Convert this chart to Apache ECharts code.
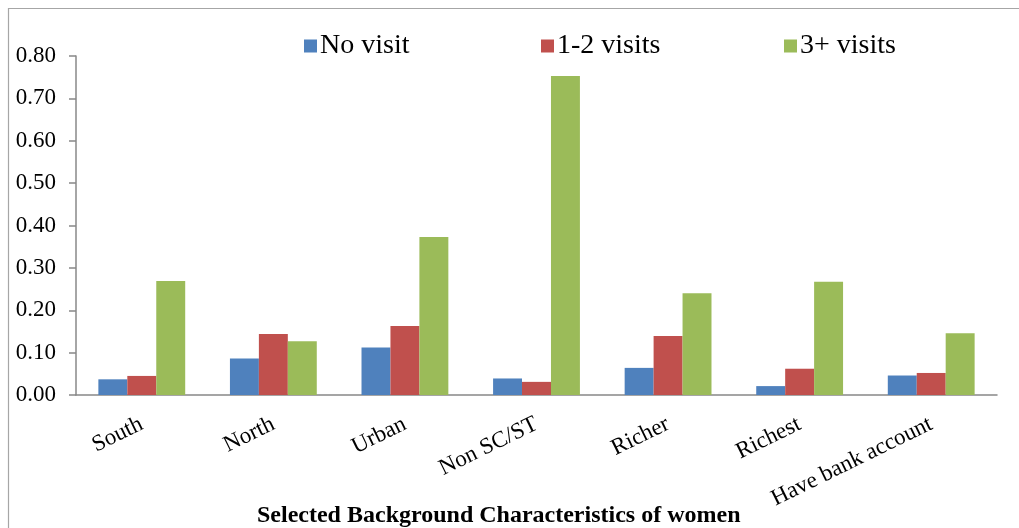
<!DOCTYPE html>
<html>
<head>
<meta charset="utf-8">
<script src="https://cdn.jsdelivr.net/npm/echarts@6/dist/echarts.min.js"></script>
<style>
html,body{margin:0;padding:0;background:#fff;}
#chart{width:1019px;height:528px;}
</style>
</head>
<body>
<div id="chart"></div>
<script>
// Share of women by number of visits, per background characteristic
const categories = ['South', 'North', 'Urban', 'Non SC/ST', 'Richer', 'Richest', 'Have bank account'];
const seriesNames = ['No visit', '1-2 visits', '3+ visits'];
const noVisit   = [0.037, 0.086, 0.112, 0.039, 0.064, 0.021, 0.046];
const oneTwo    = [0.045, 0.144, 0.163, 0.031, 0.139, 0.062, 0.052];
const threePlus = [0.269, 0.127, 0.373, 0.753, 0.240, 0.267, 0.146];
const colors = ['#4F81BD', '#C0504D', '#9BBB59'];

const serif = '"Liberation Serif", "DejaVu Serif", serif';
const chart = echarts.init(document.getElementById('chart'));

const legendLefts = [299, 536, 779];
const legends = seriesNames.map((name, i) => ({
  data: [name],
  left: legendLefts[i],
  top: 27,
  itemWidth: 13,
  itemHeight: 13,
  itemGap: 0,
  icon: 'rect',
  textStyle: { fontFamily: serif, fontSize: 28, color: '#000', padding: [0, 0, 0, -2] }
}));

chart.setOption({
  backgroundColor: '#fff',
  animation: false,
  color: colors,
  legend: legends,
  grid: { left: 76, right: 22, top: 56, bottom: 133 },
  graphic: [{
    type: 'rect',
    shape: { x: 8.5, y: 8.5, width: 1200, height: 700 },
    style: { fill: 'none', stroke: '#a6a6a6', lineWidth: 1.2 },
    silent: true
  }, {
    type: 'text',
    left: 257,
    top: 504,
    style: {
      text: 'Selected Background Characteristics of women',
      font: 'bold 24px ' + serif,
      fill: '#000'
    }
  }],
  xAxis: {
    type: 'category',
    data: categories,
    axisLine: { lineStyle: { color: '#888', width: 1.5 } },
    axisTick: { length: 7, lineStyle: { color: '#888', width: 1.5 } },
    axisLabel: {
      rotate: 26,
      margin: 28,
      interval: 0,
      fontFamily: serif,
      fontSize: 23,
      color: '#000'
    }
  },
  yAxis: {
    type: 'value',
    min: 0,
    max: 0.8,
    interval: 0.1,
    axisLine: { show: true, lineStyle: { color: '#888', width: 1.5 } },
    axisTick: { show: true, length: 7, lineStyle: { color: '#888', width: 1.5 } },
    splitLine: { show: false },
    axisLabel: {
      margin: 20,
      fontFamily: serif,
      fontSize: 23,
      color: '#000',
      formatter: v => v.toFixed(2)
    }
  },
  series: [noVisit, oneTwo, threePlus].map((d, i) => ({
    name: seriesNames[i],
    type: 'bar',
    data: d,
    barGap: '0%',
    barCategoryGap: '34%'
  }))
});
</script>
</body>
</html>
